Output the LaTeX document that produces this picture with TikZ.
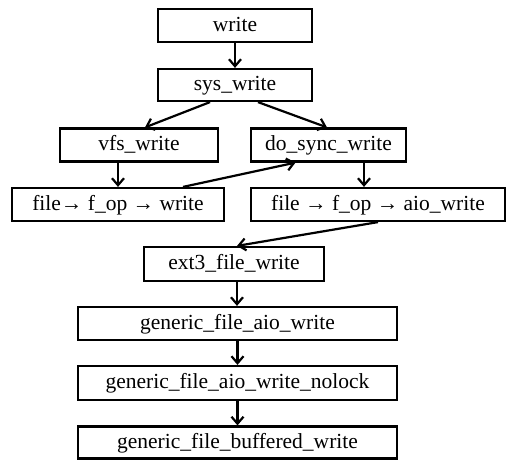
\documentclass[tikz,border=0pt]{standalone}
\usepackage{fontspec}
\setmainfont{Liberation Serif}
\usetikzlibrary{arrows.meta,calc}
\begin{document}
\begin{tikzpicture}[x=1pt,y=-1pt,
  fbox/.style={draw,line width=2.2pt,inner sep=0pt,font=\fontsize{21.5}{24}\selectfont,
    text height=15pt,text depth=4pt},
  flow/.style={line width=2.2pt,-{Straight Barb[length=7pt,width=12pt,line width=2.2pt]}}]
\useasboundingbox (0,0) rectangle (507,459);
\clip (0,0) rectangle (507,459);
% call chain boxes
\node[fbox,minimum width=154pt,minimum height=33pt] (write) at (235,25.5) {write};
\node[fbox,minimum width=154pt,minimum height=32pt] (sys) at (235,85) {sys\_write};
\node[fbox,minimum width=158pt,minimum height=33pt] (vfs) at (139,145) {vfs\_write};
\node[fbox,minimum width=155pt,minimum height=33pt] (dosync) at (328.5,145) {do\_sync\_write};
\node[fbox,minimum width=212pt,minimum height=33pt] (fw) at (118,204.5) {file→ f\_op → write};
\node[fbox,minimum width=254pt,minimum height=33pt] (aio) at (378,204.5) {file → f\_op → aio\_write};
\node[fbox,minimum width=180pt,minimum height=34pt] (ext3) at (234,264) {ext3\_file\_write};
\node[fbox,minimum width=319pt,minimum height=33pt] (gfaw) at (237.5,323.5) {generic\_file\_aio\_write};
\node[fbox,minimum width=319pt,minimum height=34pt] (nolock) at (237.5,383) {generic\_file\_aio\_write\_nolock};
\node[fbox,minimum width=319pt,minimum height=32pt] (buf) at (237.5,442.5) {generic\_file\_buffered\_write};
% connectors
\draw[flow] (write.south) -- (sys.north);
\draw[flow] ($(sys.south)+(-25,0)$) -- ($(vfs.north)+(6,0)$);
\draw[flow] ($(sys.south)+(23,0)$) -- ($(dosync.north)+(-1.5,0)$);
\draw[flow] ($(vfs.south)+(-21,0)$) -- (fw.north);
\draw[flow] ($(fw.north)+(65,0)$) -- ($(dosync.south)+(-33,0)$);
\draw[flow] ($(dosync.south)+(35.5,0)$) -- ($(aio.north)+(-14,0)$);
\draw[flow] (aio.south) -- ($(ext3.north)+(3,0)$);
\draw[flow] ($(ext3.south)+(3,0)$) -- ($(gfaw.north)+(-0.5,0)$);
\draw[flow] (gfaw.south) -- (nolock.north);
\draw[flow] (nolock.south) -- (buf.north);
\end{tikzpicture}
\end{document}
